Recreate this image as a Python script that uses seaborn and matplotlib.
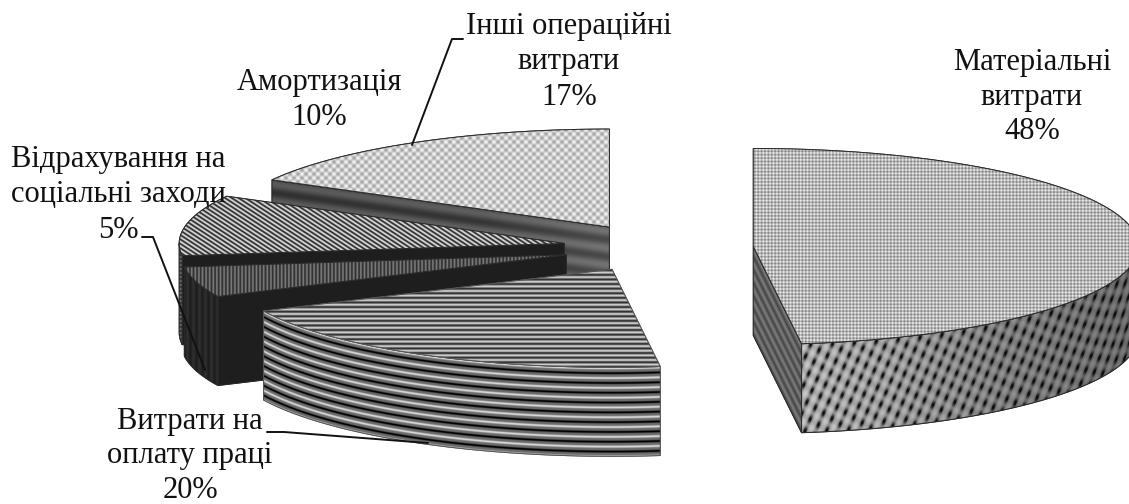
import numpy as np
import matplotlib
matplotlib.use("Agg")
import matplotlib.pyplot as plt
from matplotlib.patches import Polygon
import seaborn as sns

# Operating cost structure, percent of total, clockwise from twelve o'clock
categories = ["Матеріальні\nвитрати", "Витрати на\nоплату праці",
              "Відрахування на\nсоціальні заходи", "Амортизація",
              "Інші операційні\nвитрати"]
shares = [48, 20, 5, 10, 17]
face_grey = [0.72, 0.50, 0.32, 0.50, 0.82]
wall_grey = [0.45, 0.45, 0.14, 0.30, 0.30]

W, H = 1129, 504
CX, CY, RX, RY = 658.0, 248.0, 385.0, 98.0
DEPTH = 89.0
EXPLODE = 0.248

sns.set_theme(style="white")
plt.rcParams["font.family"] = ["Liberation Serif", "DejaVu Serif"]
cmap = sns.color_palette("gray", as_cmap=True)

fig = plt.figure(figsize=(W / 100, H / 100), dpi=100)
ax = fig.add_axes([0, 0, 1, 1])
ax.set_xlim(0, W)
ax.set_ylim(H, 0)
ax.set_axis_off()

X, Y = np.meshgrid(np.arange(W) + 0.5, np.arange(H) + 0.5)
tau = 2 * np.pi


def point(cx, cy, deg):
    a = np.radians(deg)
    return cx + RX * np.sin(a), cy - RY * np.cos(a)


def arc(cx, cy, a0, a1, n=120):
    d = np.linspace(a0, a1, n)
    return np.column_stack(point(cx, cy, d))


def arc_offset(cx, cy):
    # vertical distance below the front rim of a slice, per pixel
    t = np.clip((X - cx) / RX, -1, 1)
    return Y - (cy + RY * np.sqrt(1 - t ** 2))


def paint(verts, grey, texture, z, edge="#2a2a2a", lw=0.7):
    patch = Polygon(verts, closed=True, facecolor=str(grey), edgecolor=edge,
                    linewidth=lw, zorder=z + 0.2)
    ax.add_patch(patch)
    outline = Polygon(verts, closed=True, facecolor="none", edgecolor=edge,
                      linewidth=lw, zorder=z + 0.6)
    ax.add_patch(outline)
    im = ax.imshow(np.clip(texture, 0, 1), cmap=cmap, vmin=0, vmax=1,
                   extent=(0, W, H, 0), interpolation="bilinear",
                   aspect="auto", zorder=z + 0.4)
    im.set_clip_path(patch)


def top_texture(i):
    if i == 0:
        return 0.72 + 0.22 * np.sin(tau * (X + Y) / 6.8) * np.sin(tau * (X - Y) / 6.8)
    if i == 1:
        return 0.50 + 0.30 * np.sin(tau * Y / 4.6)
    if i == 2:
        return 0.33 + 0.14 * np.sin(tau * X / 3.6)
    if i == 3:
        return 0.52 + 0.34 * np.sin(tau * (Y - 0.65 * X) / 4.4)
    return 0.80 + 0.17 * np.sin(tau * X / 8.0) * np.sin(tau * Y / 8.0)


def wall_texture(i, cx, cy):
    v = arc_offset(cx, cy)
    if i == 0:
        # woven lattice: slanted light tiles split by thin dark seams
        s1 = np.sin(tau * (X + 0.45 * v) / 11.0)
        s2 = np.sin(tau * (0.7 * X - v) / 15.0)
        seams = np.exp(-((s1 + 1) / 0.55) ** 2) * (0.55 - 0.45 * s2)
        shade = np.interp(X, [803, 880, 1000, 1129], [1.08, 1.0, 0.8, 0.66])
        return (0.60 + 0.08 * s1 + 0.05 * s2 - 0.42 * seams) * shade
    if i == 1:
        return 0.42 + 0.42 * np.sin(tau * (v + 1.5) / 9.8) ** 3
    if i == 2:
        return 0.15 + 0.03 * np.sin(tau * X / 6.0)
    if i == 3:
        return 0.32 + 0.12 * np.sin(tau * Y / 4.0)
    return 0.32 + 0.0 * X


def radial_texture(i, cx, cy, deg):
    a = np.radians(deg)
    line_y = cy + (X - cx) * (-RY * np.cos(a)) / (RX * np.sin(a))
    v = Y - line_y
    if i == 0:
        return 0.38 + 0.09 * np.sin(tau * v / 13.0)
    if i == 2:
        return 0.12 + 0.0 * X
    if i == 3:
        return 0.12 + 0.0 * X
    if i == 4:
        glow = np.interp(X, [270, 480, 608], [0.0, 0.02, 0.10])
        return 0.27 + 0.08 * np.sin(tau * v / 17.0) + glow
    return wall_grey[i] + 0.0 * X


# Running start and end angle of every slice, clockwise from the top
ends = np.cumsum(shares) * 3.6
starts = ends - np.array(shares) * 3.6

# Back slices go first so that nearer ones cover them
draw_order = [4, 3, 2, 0, 1]
for rank, i in enumerate(draw_order):
    z = 2 * rank + 1
    a0, a1 = starts[i], ends[i]
    mid = np.radians((a0 + a1) / 2)
    cx = CX + EXPLODE * RX * np.sin(mid)
    cy = CY - EXPLODE * RY * np.cos(mid)
    edge = "#555555" if i == 1 else "#2a2a2a"

    # side cut that looks toward the viewer
    for deg, normal in ((a0, a0 - 90), (a1, a1 + 90)):
        if np.cos(np.radians(normal)) < -1e-6:
            ex, ey = point(cx, cy, deg)
            verts = [(cx, cy), (ex, ey), (ex, ey + DEPTH), (cx, cy + DEPTH)]
            paint(verts, wall_grey[i], radial_texture(i, cx, cy, deg), z, edge)

    # outer rim, only the front half of the ellipse shows
    w0, w1 = max(a0, 90), min(a1, 270)
    if w1 > w0:
        rim = arc(cx, cy, w0, w1)
        verts = np.vstack([rim, (rim + [0, DEPTH])[::-1]])
        paint(verts, wall_grey[i], wall_texture(i, cx, cy), z + 0.1, edge)

    # top surface
    verts = np.vstack([[(cx, cy)], arc(cx, cy, a0, a1)])
    paint(verts, face_grey[i], top_texture(i), z + 1, edge)

# Slice captions with the share on the last line
captions = {0: (1032, 97, 1.24), 1: (190, 456, 1.24), 2: (118, 195, 1.30),
            3: (319, 100, 1.27), 4: (569, 62, 1.29)}
for i, (tx, ty, spacing) in captions.items():
    ax.text(tx, ty, f"{categories[i]}\n{shares[i]}%", ha="center", va="center",
            fontsize=22, color="#111111", linespacing=spacing, zorder=30)

# Leader lines
leaders = [
    [(463, 39), (452, 39), (412, 145)],
    [(142, 237), (153, 237), (205, 370)],
    [(267, 432), (284, 432), (428, 443)],
]
for path in leaders:
    xs, ys = zip(*path)
    ax.plot(xs, ys, color="#111111", lw=1.4, zorder=29)

ax.set_xlim(0, W)
ax.set_ylim(H, 0)
fig.savefig("out.png", dpi=100, facecolor="white")
